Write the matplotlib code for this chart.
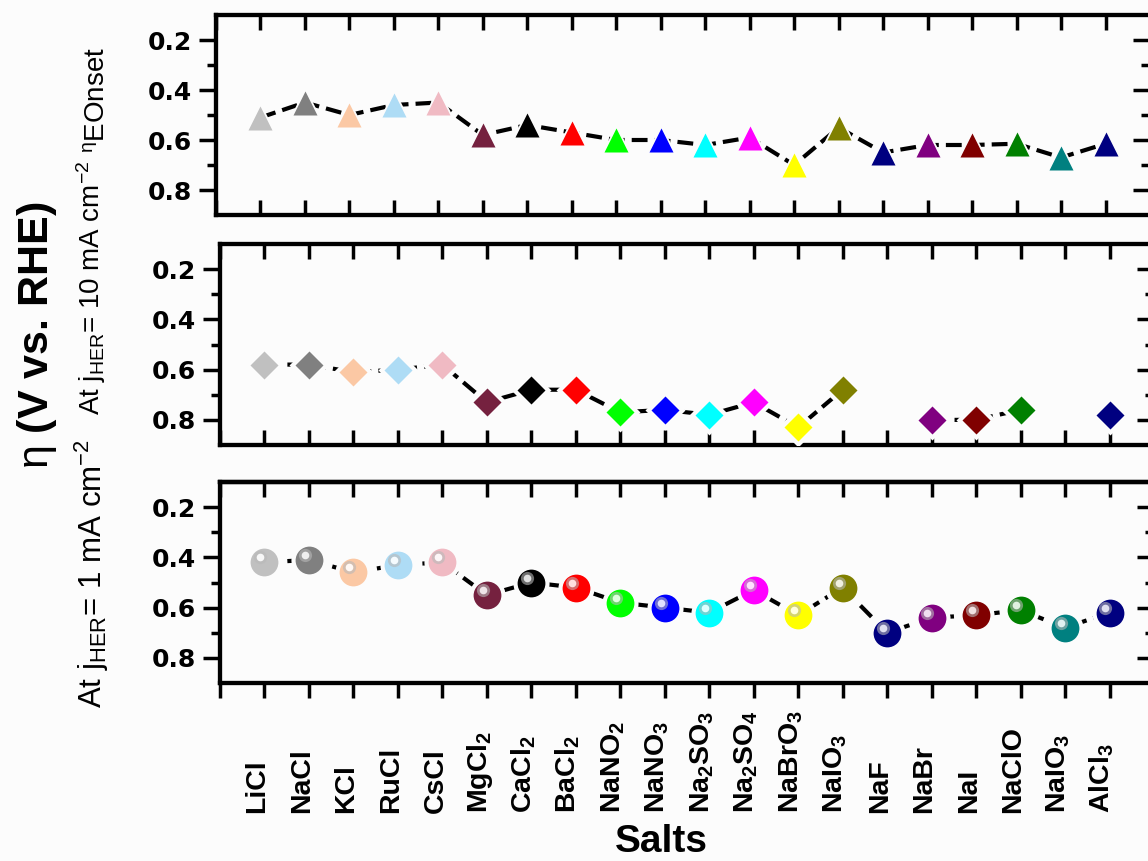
import numpy as np
import matplotlib
matplotlib.use('Agg')
import matplotlib.pyplot as plt
from matplotlib.transforms import offset_copy
from matplotlib.ticker import FixedLocator
from matplotlib.colors import to_rgb

# ---------------- data ----------------
salts = ['LiCl', 'NaCl', 'KCl', 'RuCl', 'CsCl', 'MgCl2', 'CaCl2', 'BaCl2', 'NaNO2', 'NaNO3',
         'Na2SO3', 'Na2SO4', 'NaBrO3', 'NaIO3', 'NaF', 'NaBr', 'NaI', 'NaClO', 'NaIO3', 'AlCl3']
tick_labels = ['LiCl', 'NaCl', 'KCl', 'RuCl', 'CsCl', r'MgCl$_\mathbf{2}$', r'CaCl$_\mathbf{2}$',
               r'BaCl$_\mathbf{2}$', r'NaNO$_\mathbf{2}$', r'NaNO$_\mathbf{3}$',
               r'Na$_\mathbf{2}$SO$_\mathbf{3}$', r'Na$_\mathbf{2}$SO$_\mathbf{4}$',
               r'NaBrO$_\mathbf{3}$', r'NaIO$_\mathbf{3}$', 'NaF', 'NaBr', 'NaI', 'NaClO',
               r'NaIO$_\mathbf{3}$', r'AlCl$_\mathbf{3}$']
eta_onset = [0.51, 0.45, 0.50, 0.46, 0.45, 0.58, 0.54, 0.57, 0.60, 0.60,
             0.62, 0.59, 0.70, 0.55, 0.65, 0.62, 0.62, 0.615, 0.67, 0.615]
eta_10mA = [0.58, 0.58, 0.61, 0.60, 0.58, 0.73, 0.68, 0.68, 0.77, 0.76,
            0.78, 0.73, 0.83, 0.68, np.nan, 0.80, 0.80, 0.76, np.nan, 0.78]
eta_1mA = [0.42, 0.41, 0.46, 0.43, 0.42, 0.55, 0.50, 0.52, 0.58, 0.60,
           0.62, 0.53, 0.63, 0.52, 0.70, 0.64, 0.63, 0.61, 0.68, 0.62]
colors = ['#C0C0C0', '#808080', '#FBC8A4', '#AEDCF5', '#F0BAC3', '#75213F', '#000000',
          '#FF0000', '#00FF00', '#0000FF', '#00FFFF', '#FF00FF', '#FFFF00', '#808000',
          '#000080', '#800080', '#800000', '#008000', '#008080', '#000080']
y_major = [0.2, 0.4, 0.6, 0.8]
y_minor = [0.3, 0.5, 0.7]

# ---------------- style ----------------
plt.rcParams['font.family'] = ['Liberation Sans', 'DejaVu Sans']
plt.rcParams['mathtext.fontset'] = 'custom'
plt.rcParams['mathtext.rm'] = 'Liberation Sans'
plt.rcParams['mathtext.bf'] = 'Liberation Sans:bold'
plt.rcParams['mathtext.it'] = 'Liberation Sans:italic'

W, H = 1148, 861
bg = '#FCFCFC'
fig = plt.figure(figsize=(W / 100, H / 100), dpi=100)
fig.patch.set_facecolor(bg)


def px_axes(l, t, r, b):
    return fig.add_axes([l / W, 1 - b / H, (r - l) / W, (b - t) / H])


ax1 = px_axes(216, 15, 1150, 215)
ax2 = px_axes(220, 244, 1154, 445)
ax3 = px_axes(220, 482, 1154, 683)

SPW = 3.1
TW = 2.5
x = np.arange(len(salts))


def style_axes(ax, bottom_out=False):
    ax.set_facecolor('none')
    ax.set_xlim(-1, 20)
    ax.set_ylim(0.9, 0.1)
    for s in ax.spines.values():
        s.set_linewidth(SPW)
    ax.set_yticks(y_major)
    ax.yaxis.set_minor_locator(FixedLocator(y_minor))
    ax.set_yticklabels([f'{v:.1f}' for v in y_major], fontfamily='DejaVu Sans',
                       fontweight='bold', fontsize=18)
    ax.tick_params(axis='y', which='major', direction='out', length=12, width=TW, pad=5,
                   right=False)
    ax.tick_params(axis='y', which='minor', direction='out', length=6.5, width=TW, right=False)
    ax.set_xticks(np.arange(-1, 21))
    sec = ax.secondary_yaxis('right')
    sec.set_yticks(y_major)
    sec.yaxis.set_minor_locator(FixedLocator(y_minor))
    sec.tick_params(axis='y', which='major', direction='in', length=12, width=TW, labelright=False)
    sec.tick_params(axis='y', which='minor', direction='in', length=6.5, width=TW)
    sec.spines['right'].set_linewidth(SPW)
    if not bottom_out:
        ax.tick_params(axis='x', which='major', direction='in', length=10.5, width=TW,
                       top=True, bottom=True, labelbottom=False)
    else:
        ax.tick_params(axis='x', which='major', direction='out', length=10.5, width=TW,
                       top=False, bottom=True)
        secx = ax.secondary_xaxis('top')
        secx.set_xticks(np.arange(-1, 21))
        secx.tick_params(axis='x', direction='in', length=10.5, width=TW, labeltop=False)
        secx.spines['top'].set_linewidth(SPW)


def draw_series(ax, vals, marker, ms, spheres=False):
    ax.plot(x, vals, color='black', lw=3.0, linestyle=(0, (3.8, 1.7)), zorder=2,
            dash_capstyle='butt')
    # halo to leave a gap between the line and each symbol
    ax.plot(x, vals, linestyle='none', marker=marker, ms=ms + 6, mfc=bg, mec='none', zorder=3)
    for xi, v, c in zip(x, vals, colors):
        if np.isnan(v):
            continue
        ax.plot([xi], [v], linestyle='none', marker=marker, ms=ms, mfc=c, mec='none', zorder=4)
        if spheres:
            rgb = np.array(to_rgb(c))
            tr = offset_copy(ax.transData, fig=fig, x=-3.0, y=3.6, units='points')
            ax.plot([xi], [v], linestyle='none', marker='o', ms=9.5,
                    mfc=tuple(rgb * 0.4 + 0.6 * 0.72), mec='none', zorder=5, transform=tr)
            ax.plot([xi], [v], linestyle='none', marker='o', ms=5.5,
                    mfc=tuple(rgb * 0.12 + 0.88), mec='none', zorder=6, transform=tr)


style_axes(ax1)
style_axes(ax2)
style_axes(ax3, bottom_out=True)

draw_series(ax1, eta_onset, '^', 17.5)
draw_series(ax2, eta_10mA, 'D', 14)
draw_series(ax3, eta_1mA, 'o', 20, spheres=True)

ax3.set_xticklabels([''] + tick_labels + [''], rotation=90, rotation_mode='anchor',
                    ha='left', va='baseline', fontsize=20.5, fontweight='bold')
ax3.tick_params(axis='x', which='major', pad=83)

# axis titles
fig.text(661 / W, 1.5 / H, 'Salts', ha='center', va='bottom', fontsize=28,
         fontweight='bold')
fig.text(37 / W, 1 - 335 / H, r'$\mathrm{\eta}$ (V vs. RHE)', rotation=90, ha='center',
         va='center', fontsize=31, fontweight='bold')
fig.text(97 / W, 1 - 100 / H, r'$^\mathrm{\eta}$EOnset', rotation=90,
         ha='center', va='center', fontsize=20)
fig.text(91 / W, 1 - 288 / H, r'At j$_\mathrm{HER}$= 10 mA cm$^{-2}$', rotation=90,
         ha='center', va='center', fontsize=20)
fig.text(92 / W, 1 - 574 / H, r'At j$_\mathrm{HER}$= 1 mA cm$^{-2}$', rotation=90,
         ha='center', va='center', fontsize=22.5)

fig.savefig('out.png', dpi=100, facecolor=bg)
